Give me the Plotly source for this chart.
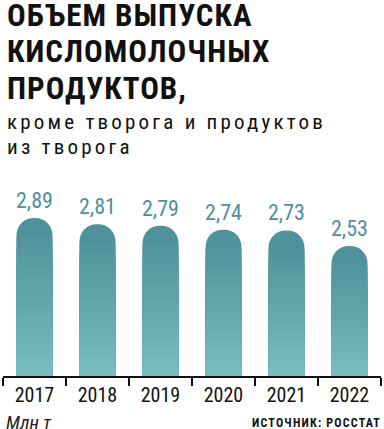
import plotly.graph_objects as go

years = ["2017", "2018", "2019", "2020", "2021", "2022"]
values = [2.89, 2.81, 2.79, 2.74, 2.73, 2.53]
value_labels = ["2,89", "2,81", "2,79", "2,74", "2,73", "2,53"]

title_lines = ["ОБЪЕМ ВЫПУСКА", "КИСЛОМОЛОЧНЫХ", "ПРОДУКТОВ,"]
subtitle_lines = ["кроме творога и продуктов", "из творога"]
unit_text = "Млн т"
source_text = "ИСТОЧНИК: РОССТАТ"

W, H = 384, 429
M_L, M_R, M_T, M_B = 3, 3, 160, 53
Y0 = 0.859          # axis baseline value
Y1 = 3.635          # top of axis range

NARROW = "Liberation Sans Narrow, Arial Narrow, Roboto Condensed, DejaVu Sans Condensed, Liberation Sans, sans-serif"

top_rgb = (80, 146, 153)
bot_rgb = (118, 188, 192)

def mix(t):
    r = [round(a + (b - a) * t) for a, b in zip(top_rgb, bot_rgb)]
    return f"rgb({r[0]},{r[1]},{r[2]})"

fig = go.Figure()
fig.add_trace(go.Bar(x=years, y=values, marker=dict(color=mix(0), cornerradius="50%", line=dict(width=0)),
                     hoverinfo="skip"))
N = 14
cap = 0.25
for i in range(1, N + 1):
    ys = []
    for v in values:
        L = v - cap - Y0
        ys.append(v - cap - L * (i - 1) / N)
    fig.add_trace(go.Bar(x=years, y=ys, marker=dict(color=mix(i / N), line=dict(width=0)),
                         hoverinfo="skip"))

plot_h = H - M_T - M_B

def py(p):
    return (H - M_B - p) / plot_h

ann = []
for idx, (v, lab) in enumerate(zip(values, value_labels)):
    ann.append(dict(x=idx, y=v, xref="x", yref="y", text=lab, showarrow=False,
                    yanchor="bottom", yshift=3,
                    font=dict(family=NARROW, size=22, color="#4f8f9f")))

for i, t in enumerate(title_lines):
    ann.append(dict(x=0, xref="paper", xanchor="left", xshift=2, y=py(15 + 36.5 * i), yref="paper",
                    yanchor="middle", showarrow=False,
                    text=f"<b><span style='letter-spacing:1px'>{t}</span></b>",
                    font=dict(family=NARROW, size=31, color="#111111")))
for i, t in enumerate(subtitle_lines):
    ann.append(dict(x=0, xref="paper", xanchor="left", xshift=2, y=py(121.5 + 25 * i), yref="paper",
                    yanchor="middle", showarrow=False,
                    text=f"<span style='letter-spacing:3.2px'>{t}</span>",
                    font=dict(family=NARROW, size=21, color="#111111")))

ann.append(dict(x=0, xref="paper", xanchor="left", xshift=1, y=py(422), yref="paper",
                yanchor="middle", showarrow=False, text=f"<i>{unit_text}</i>",
                font=dict(family=NARROW, size=19, color="#222222")))
ann.append(dict(x=1, xref="paper", xanchor="right", xshift=2, y=py(423), yref="paper",
                yanchor="middle", showarrow=False,
                text=f"<b><span style='letter-spacing:1.2px'>{source_text}</span></b>",
                font=dict(family=NARROW, size=12, color="#111111")))

fig.update_layout(
    width=W, height=H,
    margin=dict(l=M_L, r=M_R, t=M_T, b=M_B),
    paper_bgcolor="white", plot_bgcolor="white",
    barmode="overlay", bargap=0.43, showlegend=False,
    separators=", ",
    annotations=ann,
    xaxis=dict(type="category", range=[-0.5, 5.5], autorange=False, showline=True, linecolor="#111111", linewidth=2,
               ticks="outside", tickson="boundaries", ticklen=8, tickwidth=1.5, tickcolor="#111111",
               tickfont=dict(family=NARROW, size=20, color="#111111"), showgrid=False, fixedrange=True),
    yaxis=dict(range=[Y0, Y1], autorange=False, visible=False, showgrid=False, fixedrange=True),
)

fig.write_html("out.html", config={"displayModeBar": False},
               post_script="document.body.style.margin='0';document.body.style.overflow='hidden';")
